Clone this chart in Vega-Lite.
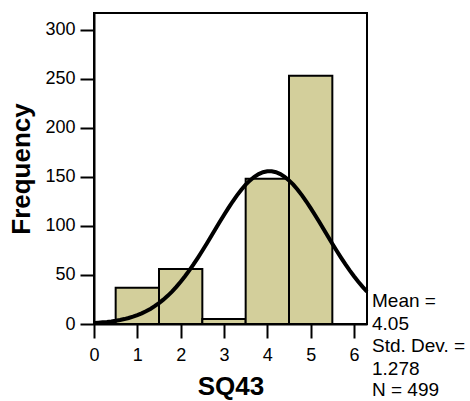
{
  "$schema": "https://vega.github.io/schema/vega-lite/v6.json",
  "width": 273,
  "height": 311,
  "autosize": {"type": "none"},
  "padding": {"left": 94, "top": 13, "right": 103, "bottom": 77},
  "background": "white",
  "config": {
    "view": {"stroke": "black", "strokeWidth": 2},
    "font": "Liberation Sans",
    "axis": {
      "grid": false,
      "domainColor": "black",
      "domainWidth": 2,
      "tickColor": "black",
      "tickWidth": 2,
      "tickSize": 14,
      "labelFlush": false,
      "labelFont": "Liberation Sans",
      "labelFontSize": 18,
      "labelColor": "black",
      "titleFont": "Liberation Sans",
      "titleFontSize": 26,
      "titleFontWeight": "bold",
      "titleColor": "black"
    }
  },
  "datasets": {
    "bins": [
      {"start": 0.5, "end": 1.5, "count": 37},
      {"start": 1.5, "end": 2.5, "count": 56},
      {"start": 2.5, "end": 3.5, "count": 5},
      {"start": 3.5, "end": 4.5, "count": 148},
      {"start": 4.5, "end": 5.5, "count": 253}
    ],
    "curve": [
      {"x": 0.0, "y": 1.03}, {"x": 0.1, "y": 1.31}, {"x": 0.2, "y": 1.67}, {"x": 0.3, "y": 2.10},
      {"x": 0.4, "y": 2.64}, {"x": 0.5, "y": 3.29}, {"x": 0.6, "y": 4.07}, {"x": 0.7, "y": 5.02},
      {"x": 0.8, "y": 6.14}, {"x": 0.9, "y": 7.47}, {"x": 1.0, "y": 9.03}, {"x": 1.1, "y": 10.85},
      {"x": 1.2, "y": 12.96}, {"x": 1.3, "y": 15.39}, {"x": 1.4, "y": 18.14}, {"x": 1.5, "y": 21.27},
      {"x": 1.6, "y": 24.79}, {"x": 1.7, "y": 28.72}, {"x": 1.8, "y": 33.06}, {"x": 1.9, "y": 37.84},
      {"x": 2.0, "y": 43.01}, {"x": 2.1, "y": 48.64}, {"x": 2.2, "y": 54.63}, {"x": 2.3, "y": 61.00},
      {"x": 2.4, "y": 67.69}, {"x": 2.5, "y": 74.66}, {"x": 2.6, "y": 81.84}, {"x": 2.7, "y": 89.16},
      {"x": 2.8, "y": 96.55}, {"x": 2.9, "y": 103.91}, {"x": 3.0, "y": 111.15}, {"x": 3.1, "y": 118.17},
      {"x": 3.2, "y": 124.86}, {"x": 3.3, "y": 131.13}, {"x": 3.4, "y": 136.88}, {"x": 3.5, "y": 141.99},
      {"x": 3.6, "y": 146.41}, {"x": 3.7, "y": 150.04}, {"x": 3.8, "y": 152.82}, {"x": 3.9, "y": 154.70},
      {"x": 4.0, "y": 155.65}, {"x": 4.05, "y": 155.77}, {"x": 4.1, "y": 155.65}, {"x": 4.2, "y": 154.70},
      {"x": 4.3, "y": 152.82}, {"x": 4.4, "y": 150.04}, {"x": 4.5, "y": 146.41}, {"x": 4.6, "y": 141.99},
      {"x": 4.7, "y": 136.88}, {"x": 4.8, "y": 131.13}, {"x": 4.9, "y": 124.86}, {"x": 5.0, "y": 118.17},
      {"x": 5.1, "y": 111.15}, {"x": 5.2, "y": 103.91}, {"x": 5.3, "y": 96.55}, {"x": 5.4, "y": 89.16},
      {"x": 5.5, "y": 81.84}, {"x": 5.6, "y": 74.66}, {"x": 5.7, "y": 67.69}, {"x": 5.8, "y": 61.00},
      {"x": 5.9, "y": 54.63}, {"x": 6.0, "y": 48.64}, {"x": 6.1, "y": 43.01}, {"x": 6.2, "y": 37.84},
      {"x": 6.3, "y": 33.06}
    ],
    "stats": [
      {"label": "Mean =", "x": 6.3, "y": 17.0},
      {"label": "4.05", "x": 6.3, "y": -6.0},
      {"label": "Std. Dev. =", "x": 6.3, "y": -28.5},
      {"label": "1.278", "x": 6.3, "y": -51.5},
      {"label": "N = 499", "x": 6.3, "y": -73.0}
    ]
  },
  "layer": [
    {
      "data": {"name": "bins"},
      "mark": {"type": "bar", "fill": "#d3cf9b", "stroke": "black", "strokeWidth": 2},
      "encoding": {
        "x": {
          "field": "start", "type": "quantitative",
          "scale": {"domain": [0, 6.3], "nice": false, "zero": false},
          "axis": {"values": [0, 1, 2, 3, 4, 5, 6], "title": "SQ43", "labelPadding": 8, "titlePadding": 9}
        },
        "x2": {"field": "end"},
        "y": {
          "field": "count", "type": "quantitative",
          "scale": {"domain": [0, 317], "nice": false},
          "axis": {"values": [0, 50, 100, 150, 200, 250, 300], "title": "Frequency", "labelPadding": 5, "titlePadding": 10}
        },
        "y2": {"datum": 0}
      }
    },
    {
      "data": {"name": "curve"},
      "mark": {"type": "line", "color": "black", "strokeWidth": 4},
      "encoding": {
        "x": {"field": "x", "type": "quantitative"},
        "y": {"field": "y", "type": "quantitative"}
      }
    },
    {
      "data": {"name": "stats"},
      "mark": {"type": "text", "align": "left", "baseline": "alphabetic", "dx": 5, "fontSize": 19, "font": "Liberation Sans", "color": "black"},
      "encoding": {
        "x": {"field": "x", "type": "quantitative"},
        "y": {"field": "y", "type": "quantitative"},
        "text": {"field": "label"}
      }
    }
  ]
}
